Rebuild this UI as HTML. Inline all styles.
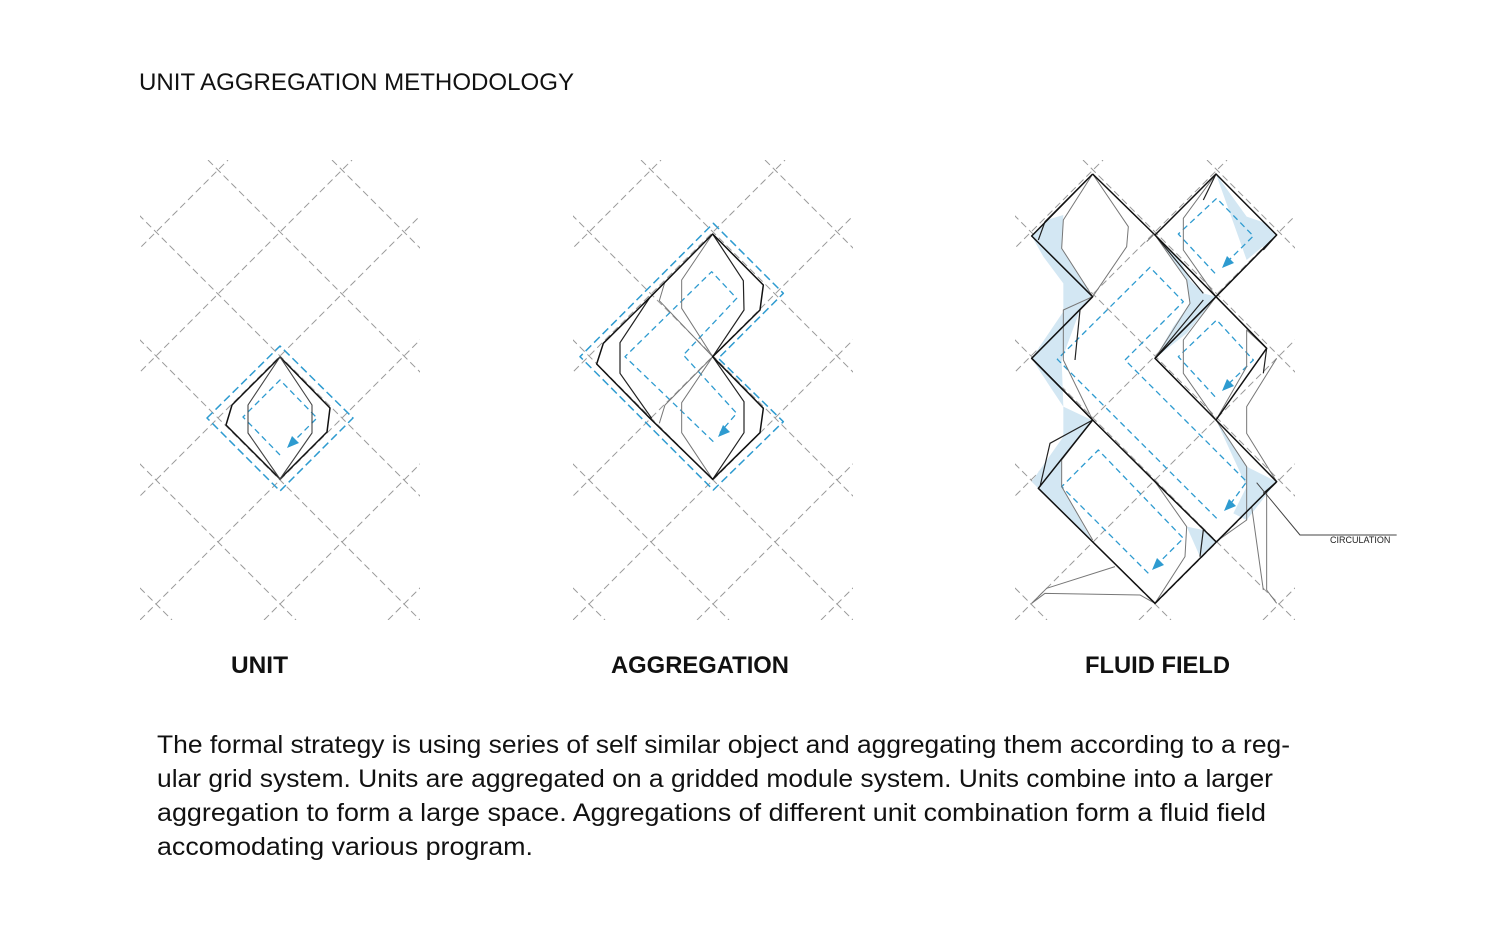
<!DOCTYPE html>
<html><head><meta charset="utf-8"><style>html,body{margin:0;padding:0;background:#fff}svg{display:block}</style></head>
<body>
<svg width="1500" height="927" viewBox="0 0 1500 927" xmlns="http://www.w3.org/2000/svg" font-family="Liberation Sans, sans-serif">
<defs>
<clipPath id="gc"><rect x="140" y="160" width="280" height="460"/></clipPath>
<g id="grid" clip-path="url(#gc)" stroke="#9a9a9a" stroke-width="1" stroke-dasharray="7 4" fill="none">
<line x1="-480" y1="620" x2="-20" y2="160"/>
<line x1="-356" y1="620" x2="104" y2="160"/>
<line x1="-232" y1="620" x2="228" y2="160"/>
<line x1="-108" y1="620" x2="352" y2="160"/>
<line x1="16" y1="620" x2="476" y2="160"/>
<line x1="140" y1="620" x2="600" y2="160"/>
<line x1="264" y1="620" x2="724" y2="160"/>
<line x1="388" y1="620" x2="848" y2="160"/>
<line x1="-412" y1="160" x2="48" y2="620"/>
<line x1="-288" y1="160" x2="172" y2="620"/>
<line x1="-164" y1="160" x2="296" y2="620"/>
<line x1="-40" y1="160" x2="420" y2="620"/>
<line x1="84" y1="160" x2="544" y2="620"/>
<line x1="208" y1="160" x2="668" y2="620"/>
<line x1="332" y1="160" x2="792" y2="620"/>
<line x1="456" y1="160" x2="916" y2="620"/>
</g>
<path id="arw" d="M0,0L12,-5L5,-12Z" fill="#2e9bd0"/>
</defs>

<text x="139" y="90" font-size="24" textLength="435" lengthAdjust="spacingAndGlyphs" fill="#111">UNIT AGGREGATION METHODOLOGY</text>

<use href="#grid"/>
<use href="#grid" transform="translate(433,0)"/>
<use href="#grid" transform="translate(875,0)"/>

<!-- UNIT -->
<g fill="none" stroke-linejoin="round">
<path d="M207,418L280,346L353,418L280,491Z" stroke="#2e9bd0" stroke-width="1.5" stroke-dasharray="8 4"/>
<path d="M280,455L243,417L280,380L317,418L294,441" stroke="#2e9bd0" stroke-width="1.3" stroke-dasharray="6 4"/>
<path d="M280,357L232,405L226,425L280,479L327,432L330,408Z" stroke="#111" stroke-width="1.5"/>
<path d="M280,357L248,405L248,433L280,479L312,433L312,405Z" stroke="#444" stroke-width="1.1"/>
</g>

<!-- AGGREGATION -->
<g transform="translate(570,210) scale(0.33333)" fill="none" stroke-linejoin="round">
<path d="M430,40L640,250L445,445L640,635L430,840L30,440Z" stroke="#2e9bd0" stroke-width="1.5" stroke-dasharray="8 4" vector-effect="non-scaling-stroke"/>
<path d="M430,695L165,440L425,185L500,265L340,435L500,610L450,668" stroke="#2e9bd0" stroke-width="1.3" stroke-dasharray="6 4" vector-effect="non-scaling-stroke"/>
<path d="M428,72L335,210L335,295L428,440L335,578L335,668L428,808M285,215L268,272L428,440L285,585L268,640" stroke="#777" stroke-width="1" vector-effect="non-scaling-stroke"/>
<path d="M428,72L520,212L522,300L428,440L522,575L522,668L428,808M240,262L150,398L150,490L245,625" stroke="#222" stroke-width="1.2" vector-effect="non-scaling-stroke"/>
<path d="M428,72L240,262L100,400L80,462L240,625L428,808L570,668L580,595L428,440L570,300L580,225Z" stroke="#111" stroke-width="1.5" vector-effect="non-scaling-stroke"/>
</g>

<!-- FLUID FIELD -->
<g transform="translate(1000,160) scale(0.33333)" stroke-linejoin="round">
<g fill="#d3e7f3" stroke="none">
<path d="M95,228L140,180L190,165L185,265L275,405L240,450L190,460L190,370L130,290Z"/>
<path d="M95,595L190,455L240,450L185,600L190,740L275,780L190,830L190,740L150,680Z"/>
<path d="M95,965L190,830L275,780L185,900L185,980L275,1140L115,985Z"/>
<path d="M465,225L540,300L570,360L610,400L648,410L560,520L465,595L520,500L570,430L560,360Z"/>
<path d="M780,200L830,225L790,270Z"/>
<path d="M610,1110L648,1145L600,1190L560,1100Z"/>
<path d="M648,780L740,920L830,965L740,1080L700,1060L740,980Z"/>
<path d="M648,42L740,170L800,190L830,225L740,300Z"/>
</g>
<g fill="none" stroke="#2e9bd0" stroke-dasharray="6 4" stroke-width="1.3">
<path vector-effect="non-scaling-stroke" d="M645,340L535,222L650,115L760,228L675,312"/>
<path vector-effect="non-scaling-stroke" d="M645,710L535,590L650,480L760,600L675,682"/>
<path vector-effect="non-scaling-stroke" d="M650,1075L172,598L450,322L550,425L375,600L740,965L682,1045"/>
<path vector-effect="non-scaling-stroke" d="M445,1240L185,980L295,870L550,1135L465,1220"/>
</g>
<g fill="none" stroke="#777" stroke-width="1">
<path vector-effect="non-scaling-stroke" d="M278,42L385,200L380,260L278,410M440,245L460,225M95,1330L140,1285L345,1220M95,1330L135,1300L420,1305L465,1330M830,595L740,740L740,820L830,965M800,990L800,1290L830,1330M755,1040L790,1290M830,965L790,1000"/>
<path vector-effect="non-scaling-stroke" d="M278,42L190,180L185,265L278,410L190,450L190,600L278,780L185,900L185,980L278,1140M465,225L560,360L570,430L465,595M648,42L550,175L550,270L648,410M648,410L550,540L550,640L648,780L740,920L740,1080L648,1145M465,965L560,1100L555,1190L465,1330M800,565L740,510L740,620L648,780"/>
</g>
<g fill="none" stroke="#222" stroke-width="1.2">
<path vector-effect="non-scaling-stroke" d="M278,42L135,185L115,240M278,410L240,450L225,600M278,780L150,850L120,980M648,42L610,120M830,225L790,270M800,565L790,640M830,965L790,1000M610,1110L600,1190M465,225L610,400M465,595L610,420"/>
</g>
<g fill="none" stroke="#111" stroke-width="1.5">
<path vector-effect="non-scaling-stroke" d="M278,42L95,228L278,410L95,595L278,780L115,985L465,1330L830,965L648,780L800,565L648,410L830,225L648,42L465,225L278,42"/>
<path vector-effect="non-scaling-stroke" d="M465,225L648,410L465,595L648,780M278,780L465,965L648,1145M95,595L278,780"/>
</g>
<path d="M770,968L900,1125L1190,1125" fill="none" stroke="#444" stroke-width="1" vector-effect="non-scaling-stroke"/>
</g>

<!-- arrowheads -->
<use href="#arw" transform="translate(287,448)"/>
<use href="#arw" transform="translate(718,437)"/>
<use href="#arw" transform="translate(1222,268)"/>
<use href="#arw" transform="translate(1222,391)"/>
<use href="#arw" transform="translate(1224,511)"/>
<use href="#arw" transform="translate(1152,570)"/>

<text x="1330" y="543" font-size="9" fill="#222">CIRCULATION</text>

<g font-weight="bold" font-size="24" fill="#111">
<text x="231" y="673" textLength="57" lengthAdjust="spacingAndGlyphs">UNIT</text>
<text x="611" y="673" textLength="178" lengthAdjust="spacingAndGlyphs">AGGREGATION</text>
<text x="1085" y="673" textLength="145" lengthAdjust="spacingAndGlyphs">FLUID FIELD</text>
</g>

<g font-size="25" fill="#111">
<text x="157" y="753" textLength="1133" lengthAdjust="spacingAndGlyphs">The formal strategy is using series of self similar object and aggregating them according to a reg-</text>
<text x="157" y="787" textLength="1116" lengthAdjust="spacingAndGlyphs">ular grid system. Units are aggregated on a gridded module system. Units combine into a larger</text>
<text x="157" y="821" textLength="1109" lengthAdjust="spacingAndGlyphs">aggregation to form a large space. Aggregations of different unit combination form a fluid field</text>
<text x="157" y="855" textLength="376" lengthAdjust="spacingAndGlyphs">accomodating various program.</text>
</g>
</svg>
</body></html>
